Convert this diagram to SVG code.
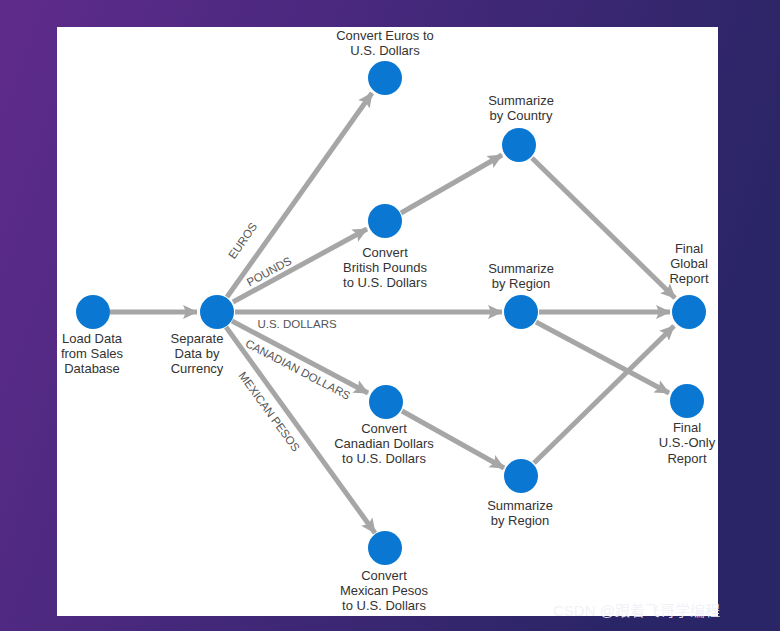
<svg xmlns="http://www.w3.org/2000/svg" width="780" height="631" viewBox="0 0 780 631">
<defs>
<linearGradient id="bg" x1="0" y1="0" x2="1" y2="0.3">
<stop offset="0" stop-color="#5f2b8c"/>
<stop offset="0.5" stop-color="#44287a"/>
<stop offset="1" stop-color="#2a2566"/>
</linearGradient>
<marker id="ah" markerUnits="userSpaceOnUse" markerWidth="16" markerHeight="16" viewBox="0 0 16 16" refX="14" refY="8" orient="auto">
<path d="M0,1 L15,8 L0,15 L3,8 Z" fill="#a6a6a6"/>
</marker>
<style>
.edge{stroke:#a6a6a6;stroke-width:5;fill:none;marker-end:url(#ah)}
.node{fill:#0a78d2}
.lbl{font-family:"Liberation Sans",Arial,sans-serif;font-size:13px;fill:#333;text-anchor:middle}
.el{font-family:"Liberation Sans",Arial,sans-serif;font-size:11.5px;fill:#555;text-anchor:middle}
.wm{font-family:"Liberation Sans","Noto Sans CJK SC",sans-serif;font-size:15px;fill:#f0f0f6;fill-opacity:0.9}
</style>
</defs>
<rect width="780" height="631" fill="url(#bg)"/>
<rect x="57" y="27" width="661" height="589" fill="#ffffff"/>
<g id="connectors">
<line class="edge" x1="110" y1="312" x2="197" y2="312"/>
<line class="edge" x1="227" y1="297" x2="372" y2="93"/>
<line class="edge" x1="233" y1="302" x2="367" y2="229"/>
<line class="edge" x1="235" y1="312" x2="502" y2="312"/>
<line class="edge" x1="232" y1="321" x2="368" y2="393"/>
<line class="edge" x1="226" y1="327" x2="375" y2="533"/>
<line class="edge" x1="401" y1="213" x2="502" y2="155"/>
<line class="edge" x1="532" y1="158" x2="675" y2="298"/>
<line class="edge" x1="539" y1="312" x2="670" y2="312"/>
<line class="edge" x1="536" y1="322" x2="669" y2="393"/>
<line class="edge" x1="402" y1="411" x2="504" y2="468"/>
<line class="edge" x1="534" y1="463" x2="674" y2="326"/>
<text class="el" transform="translate(246,243) rotate(-55)">EUROS</text>
<text class="el" transform="translate(271,275) rotate(-28.6)">POUNDS</text>
<text class="el" x="297" y="328">U.S. DOLLARS</text>
<text class="el" transform="translate(296,373) rotate(27.6)">CANADIAN DOLLARS</text>
<text class="el" transform="translate(266,414) rotate(54)">MEXICAN PESOS</text>
</g>
<g id="load"><circle class="node" cx="93" cy="312" r="17"/>
<text class="lbl"><tspan x="92" y="343">Load Data</tspan><tspan x="92" y="358">from Sales</tspan><tspan x="92" y="373">Database</tspan></text></g>
<g id="separate"><circle class="node" cx="217" cy="312" r="17"/>
<text class="lbl"><tspan x="197" y="343">Separate</tspan><tspan x="197" y="358">Data by</tspan><tspan x="197" y="373">Currency</tspan></text></g>
<g id="euros"><circle class="node" cx="385" cy="78" r="17"/>
<text class="lbl"><tspan x="385" y="40">Convert Euros to</tspan><tspan x="385" y="55">U.S. Dollars</tspan></text></g>
<g id="pounds"><circle class="node" cx="385" cy="221" r="17"/>
<text class="lbl"><tspan x="385" y="257">Convert</tspan><tspan x="385" y="272">British Pounds</tspan><tspan x="385" y="287">to U.S. Dollars</tspan></text></g>
<g id="canadian"><circle class="node" cx="386" cy="402" r="17"/>
<text class="lbl"><tspan x="384" y="433">Convert</tspan><tspan x="384" y="448">Canadian Dollars</tspan><tspan x="384" y="463">to U.S. Dollars</tspan></text></g>
<g id="mexican"><circle class="node" cx="385" cy="548" r="17"/>
<text class="lbl"><tspan x="384" y="580">Convert</tspan><tspan x="384" y="595">Mexican Pesos</tspan><tspan x="384" y="610">to U.S. Dollars</tspan></text></g>
<g id="sumCountry"><circle class="node" cx="519" cy="145" r="17"/>
<text class="lbl"><tspan x="521" y="105">Summarize</tspan><tspan x="521" y="120">by Country</tspan></text></g>
<g id="sumRegion1"><circle class="node" cx="521" cy="312" r="17"/>
<text class="lbl"><tspan x="521" y="273">Summarize</tspan><tspan x="521" y="288">by Region</tspan></text></g>
<g id="sumRegion2"><circle class="node" cx="521" cy="476" r="17"/>
<text class="lbl"><tspan x="520" y="510">Summarize</tspan><tspan x="520" y="525">by Region</tspan></text></g>
<g id="finalGlobal"><circle class="node" cx="689" cy="312" r="17"/>
<text class="lbl"><tspan x="689" y="253">Final</tspan><tspan x="689" y="268">Global</tspan><tspan x="689" y="283">Report</tspan></text></g>
<g id="finalUS"><circle class="node" cx="687" cy="401" r="17"/>
<text class="lbl"><tspan x="687" y="432">Final</tspan><tspan x="687" y="447">U.S.-Only</tspan><tspan x="687" y="463">Report</tspan></text></g>
<text class="wm" x="553" y="616">CSDN @跟着飞哥学编程</text>
</svg>
